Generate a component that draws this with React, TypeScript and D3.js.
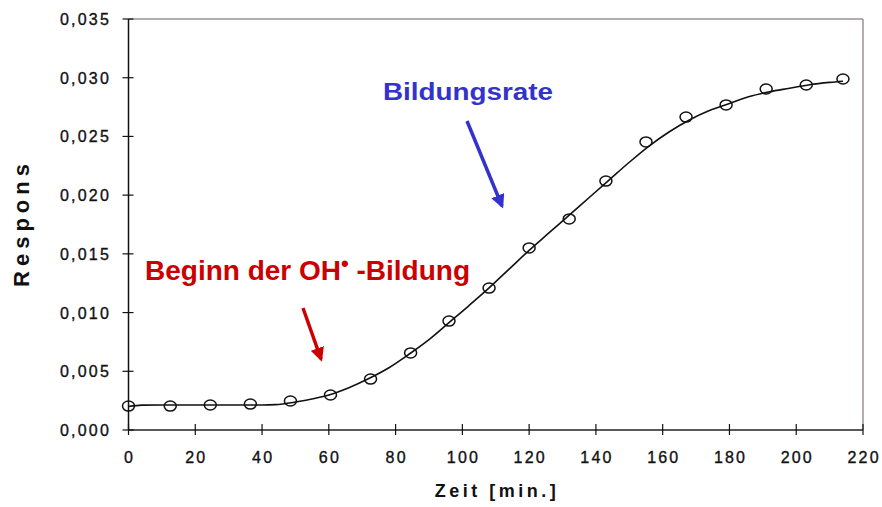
import React from "react";
import * as d3 from "d3";

// Measured response over time
const zeit = [0, 12.5, 24.5, 36.5, 48.5, 60.5, 72.5, 84.5, 96, 108, 120, 132, 143, 155, 167, 179, 191, 203, 214];
const respons = [0.00204, 0.00204, 0.00213, 0.00221, 0.00247, 0.00298, 0.00434, 0.00656, 0.00928, 0.01209, 0.0155, 0.01797, 0.0212, 0.02453, 0.02665, 0.02768, 0.02904, 0.02938, 0.02989];

// Fitted trend line
const fitZeit = [0, 4, 10, 20, 30, 40, 44, 50, 56, 60, 66, 72, 78, 84, 90, 96, 102, 108, 114, 120, 126, 132, 138, 144, 150, 156, 162, 168, 174, 180, 186, 192, 198, 204, 210, 214];
const fitRespons = [0.0020, 0.00212, 0.00213, 0.00213, 0.00213, 0.00213, 0.00216, 0.00238, 0.0027, 0.00298, 0.0036, 0.00438, 0.0053, 0.00645, 0.0077, 0.00915, 0.0106, 0.0121, 0.0137, 0.0153, 0.0168, 0.0183, 0.0198, 0.0213, 0.0228, 0.0242, 0.0254, 0.0264, 0.0272, 0.0278, 0.0284, 0.0288, 0.0291, 0.0294, 0.0296, 0.0297];

const xTicks = [0, 20, 40, 60, 80, 100, 120, 140, 160, 180, 200, 220];
const yTicks = [0, 0.005, 0.01, 0.015, 0.02, 0.025, 0.03, 0.035];

const W = 882;
const H = 507;
const left = 128.5;
const right = 863;
const top = 19;
const bottom = 430;

export default function App() {
  const x = d3.scaleLinear().domain([0, 220]).range([left, right]);
  const y = d3.scaleLinear().domain([0, 0.035]).range([bottom, top]);
  const line = d3
    .line<number>()
    .x((_, i) => x(fitZeit[i]))
    .y((d) => y(d))
    .curve(d3.curveMonotoneX);
  const font = "'Liberation Sans', Arial, sans-serif";
  const fmt = (v: number) => v.toFixed(3).replace(".", ",");

  return (
    <svg width={W} height={H} style={{ position: "absolute", left: 0, top: 0 }} fontFamily={font}>
      <defs>
        <marker id="arRed" viewBox="0 0 10 10" refX="8" refY="5" markerWidth="4" markerHeight="4" orient="auto">
          <path d="M0,0 L10,5 L0,10 z" fill="#cc0000" />
        </marker>
        <marker id="arBlue" viewBox="0 0 10 10" refX="8" refY="5" markerWidth="4" markerHeight="4" orient="auto">
          <path d="M0,0 L10,5 L0,10 z" fill="#3333cc" />
        </marker>
      </defs>
      <rect x={0} y={0} width={W} height={H} fill="#fff" />
      {/* frame */}
      <line x1={left} x2={right} y1={top} y2={top} stroke="#9a9292" strokeWidth={1.5} />
      <line x1={right} x2={right} y1={top} y2={bottom} stroke="#9a9292" strokeWidth={1.5} />
      <line x1={left} x2={right} y1={bottom} y2={bottom} stroke="#222" strokeWidth={1.5} />
      <line x1={left} x2={left} y1={top} y2={bottom} stroke="#111" strokeWidth={1.5} />

      {/* y axis */}
      {yTicks.map((t) => (
        <g key={"y" + t}>
          <line x1={left - 6} x2={left + 5} y1={y(t)} y2={y(t)} stroke="#111" strokeWidth={1.2} />
          <text x={111} y={y(t) + 6} textAnchor="end" fontSize={16} letterSpacing={2.2} fill="#111" stroke="#111" strokeWidth={0.35}>
            {fmt(t)}
          </text>
        </g>
      ))}
      {/* x axis */}
      {xTicks.map((t) => (
        <g key={"x" + t}>
          <line x1={x(t)} x2={x(t)} y1={bottom - 6} y2={bottom + 5} stroke="#111" strokeWidth={1.2} />
          <text x={x(t) + 1.1} y={463} textAnchor="middle" fontSize={16} letterSpacing={2.2} fill="#111" stroke="#111" strokeWidth={0.35}>
            {t}
          </text>
        </g>
      ))}

      <text
        transform={`translate(29, 223) rotate(-90)`}
        textAnchor="middle"
        fontSize={22}
        fontWeight="bold"
        letterSpacing={5}
        fill="#111"
      >
        Respons
      </text>
      <text x={497} y={497} textAnchor="middle" fontSize={18} fontWeight="bold" letterSpacing={3.5} fill="#111">
        Zeit [min.]
      </text>

      {/* fitted curve */}
      <path d={line(fitRespons) || ""} fill="none" stroke="#111" strokeWidth={1.6} />
      {/* measured points */}
      {respons.map((v, i) => (
        <ellipse key={i} cx={x(zeit[i])} cy={y(v)} rx={6} ry={5} fill="none" stroke="#111" strokeWidth={1.5} />
      ))}

      {/* annotations */}
      <text x={145} y={280} fontSize={28} fontWeight="bold" fill="#cc0000">
        Beginn der OH
        <tspan dy={-9} fontSize={22}>•</tspan>
        <tspan dy={9}> -Bildung</tspan>
      </text>
      <line x1={303} y1={308} x2={321} y2={359} stroke="#cc0000" strokeWidth={3.5} markerEnd="url(#arRed)" />

      <text x={383} y={99.5} fontSize={23} fontWeight="bold" fill="#3333cc" textLength={170} lengthAdjust="spacingAndGlyphs">
        Bildungsrate
      </text>
      <line x1={467} y1={121} x2={502} y2={206} stroke="#3333cc" strokeWidth={3.5} markerEnd="url(#arBlue)" />
    </svg>
  );
}
